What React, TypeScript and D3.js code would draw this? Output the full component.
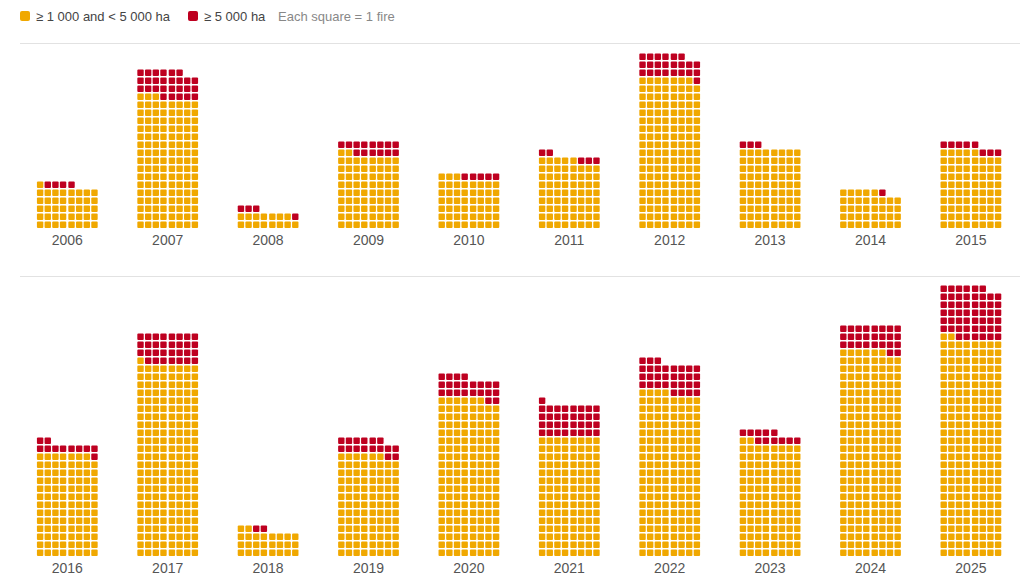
import React from "react";
import * as d3 from "d3";

const years = ["2006","2007","2008","2009","2010","2011","2012","2013","2014","2015","2016","2017","2018","2019","2020","2021","2022","2023","2024","2025"];
const midFires = [41,131,15,74,51,69,151,80,37,77,103,193,26,102,158,120,164,114,206,218];
const largeFires = [4,27,4,14,5,5,23,3,1,8,11,31,2,16,22,33,31,11,26,52];
const legendLabels = ["≥ 1 000 and < 5 000 ha", "≥ 5 000 ha"];
const noteLabel = "Each square = 1 fire";

const YELLOW = "#F0A800";
const RED = "#BE0020";
const COLS = 8;
const SQ = 6.4;
const PITCH_X = 7.65;
const GROUP_GAP = 0.8;
const PITCH_Y = 8;

export default function App() {
  const W = 1030, H = 580;
  const panels = [
    { years: years.slice(0, 10), base: 228, labelY: 245, idx0: 0 },
    { years: years.slice(10), base: 556, labelY: 573, idx0: 10 },
  ];
  const x = (ys: string[]) => d3.scalePoint<string>().domain(ys).range([67.3, 970.9]).padding(0);
  const colScale = (c: number) => c * PITCH_X + (c >= 4 ? GROUP_GAP : 0);
  const barW = colScale(COLS - 1) + SQ;
  const font = "'Liberation Sans', Arial, sans-serif";

  return (
    <svg width={W} height={H} style={{ position: "absolute", left: 0, top: 0, background: "#fff" }} fontFamily={font}>
      {/* legend */}
      <rect x={20} y={11} width={10} height={10} rx={2} fill={YELLOW} />
      <text x={36} y={20.5} fontSize={13} fill="#444">{legendLabels[0]}</text>
      <rect x={188} y={11} width={10} height={10} rx={2} fill={RED} />
      <text x={204} y={20.5} fontSize={13} fill="#444">{legendLabels[1]}</text>
      <text x={278} y={20.5} fontSize={13} fill="#888">{noteLabel}</text>
      <line x1={20} x2={1020} y1={43.5} y2={43.5} stroke="#e2e2e2" />
      <line x1={20} x2={1020} y1={276.5} y2={276.5} stroke="#e2e2e2" />
      {panels.map((p, pi) => {
        const xs = x(p.years);
        const rowScale = d3.scaleLinear().domain([0, 1]).range([p.base - SQ, p.base - SQ - PITCH_Y]);
        return (
          <g key={pi}>
            {p.years.map((yr, i) => {
              const k = p.idx0 + i;
              const total = midFires[k] + largeFires[k];
              const cx = xs(yr)!;
              const left = cx - barW / 2;
              const cells = d3.range(total).map((j) => ({
                col: j % COLS,
                row: Math.floor(j / COLS),
                color: j < midFires[k] ? YELLOW : RED,
              }));
              return (
                <g key={yr}>
                  {cells.map((c, j) => (
                    <rect key={j} x={left + colScale(c.col)} y={rowScale(c.row)} width={SQ} height={SQ} rx={1} fill={c.color} />
                  ))}
                  <text x={cx} y={p.labelY} textAnchor="middle" fontSize={14} fill="#555">{yr}</text>
                </g>
              );
            })}
          </g>
        );
      })}
    </svg>
  );
}
